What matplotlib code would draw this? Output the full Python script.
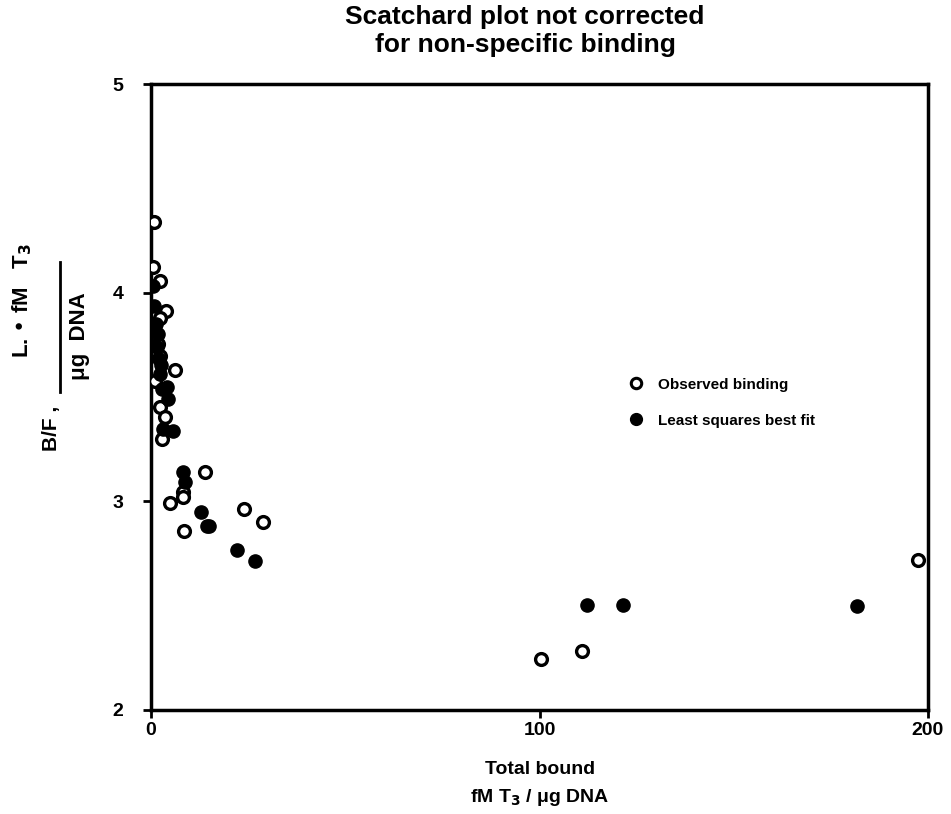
import matplotlib
matplotlib.use("Agg")
import matplotlib.pyplot as plt
from matplotlib.lines import Line2D

plt.rcParams['font.family'] = ['Liberation Sans', 'DejaVu Sans']
plt.rcParams['font.weight'] = 'bold'
plt.rcParams['mathtext.default'] = 'bf'

# Observed binding (open circles)
obs_x = [0.8, 0.5, 2.3, 3.9, 2.3, 1.8, 2.3, 6.2, 1.0, 2.3, 3.6, 2.8,
         4.9, 13.9, 8.2, 8.2, 8.5, 23.9, 28.8, 100.4, 110.9, 197.4]
obs_y = [4.337, 4.125, 4.058, 3.913, 3.880, 3.755, 3.697, 3.630, 3.577, 3.452, 3.404, 3.298,
         2.990, 3.139, 3.045, 3.020, 2.856, 2.962, 2.899, 2.245, 2.284, 2.721]

# Least squares best fit (filled circles)
fit_x = [0.5, 0.8, 1.3, 1.8, 1.5, 2.1, 2.6, 2.3, 2.8, 4.1, 4.4, 3.1, 5.7,
         8.2, 8.8, 12.9, 14.4, 14.9, 22.1, 26.8, 112.2, 121.5, 181.7]
fit_y = [4.034, 3.938, 3.851, 3.803, 3.740, 3.683, 3.654, 3.611, 3.538, 3.548, 3.490, 3.346, 3.337,
         3.139, 3.091, 2.947, 2.880, 2.880, 2.769, 2.712, 2.505, 2.505, 2.500]

x_ticks = [0, 100, 200]
y_ticks = [2, 3, 4, 5]

fig = plt.figure(figsize=(9.51, 8.14), dpi=100)
ax = fig.add_axes([0.1588, 0.1278, 0.8170, 0.7690])

ax.plot(obs_x, obs_y, 'o', ms=8.5, mfc='white', mec='black', mew=2.4, ls='none', zorder=3)
ax.plot(fit_x, fit_y, 'o', ms=9.5, mfc='black', mec='black', mew=1, ls='none', zorder=4)

ax.set_xlim(0, 200)
ax.set_ylim(2, 5)
ax.set_xticks(x_ticks)
ax.set_yticks(y_ticks)
ax.set_xticklabels([str(v) for v in x_ticks], fontsize=14, fontweight='bold')
ax.set_yticklabels([str(v) for v in y_ticks], fontsize=14, fontweight='bold')
ax.tick_params(axis='x', direction='out', length=6, width=2, pad=3)
ax.tick_params(axis='y', direction='out', length=6, width=2, pad=14)
for s in ax.spines.values():
    s.set_linewidth(2.5)

fig.text(525/951, 1 - 31/814, "Scatchard plot not corrected\nfor non-specific binding",
         ha='center', va='center', fontsize=19, fontweight='bold', linespacing=1.2)

# x label (two lines)
fig.text(540/951, 1 - 770/814, "Total bound", ha='center', va='center',
         fontsize=14, fontweight='bold')
fig.text(540/951, 1 - 798/814, "fM T$_3$ / μg DNA", ha='center', va='center',
         fontsize=14, fontweight='bold')

# y label: B/F ,  (L. • fM T3) / (μg DNA)
fig.text(52/951, 1 - 428/814, "B/F ,", rotation=90, ha='center', va='center',
         fontsize=15, fontweight='bold')
fig.text(22/951, 1 - 300/814, "L. • fM   T$_3$", rotation=90, ha='center', va='center',
         fontsize=16, fontweight='bold')
fig.text(80/951, 1 - 336/814, "μg  DNA", rotation=90, ha='center', va='center',
         fontsize=16, fontweight='bold')
fig.add_artist(Line2D([60/951, 60/951], [1 - 392/814, 1 - 262/814],
                      color='black', lw=2, transform=fig.transFigure))

handles = [
    Line2D([], [], marker='o', ls='none', ms=7.5, mfc='white', mec='black', mew=2.2),
    Line2D([], [], marker='o', ls='none', ms=8.5, mfc='black', mec='black'),
]
ax.legend(handles, ["Observed binding", "Least squares best fit"],
          loc='upper left', bbox_to_anchor=(0.597, 0.553), frameon=False,
          prop={'size': 11, 'weight': 'bold'}, handletextpad=0.9, labelspacing=1.45,
          handlelength=1.0)

fig.savefig("out.png", dpi=100)
